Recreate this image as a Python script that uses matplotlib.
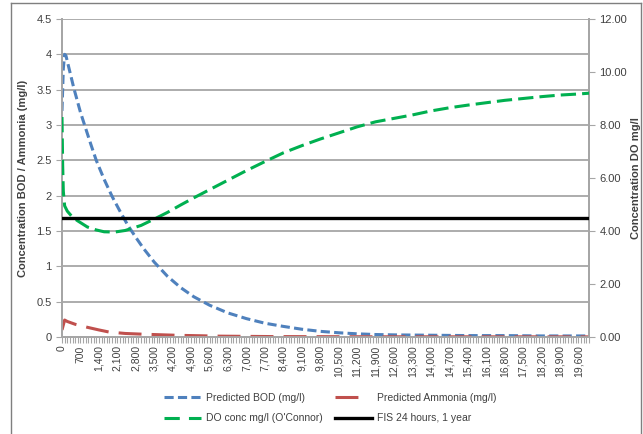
import matplotlib
matplotlib.use("Agg")
import matplotlib.pyplot as plt
from matplotlib.ticker import MultipleLocator, FuncFormatter
from matplotlib.lines import Line2D

plt.rcParams['font.family'] = ['Liberation Sans', 'DejaVu Sans']

# Data (x = distance / time step)
bod_x = [0, 50, 100, 150, 300, 450, 700, 900, 1100, 1300, 1600, 1900, 2200, 2500,
         2800, 3100, 3500, 4000, 4500, 5000, 5600, 6300, 7000, 7700, 8400, 9100,
         9800, 10500, 11200, 11900, 12600, 14000, 15400, 16800, 18200, 19600, 20000]
bod_y = [3.2, 3.8, 4.0, 3.98, 3.75, 3.52, 3.18, 2.95, 2.72, 2.50, 2.23, 1.99, 1.78, 1.58,
         1.41, 1.25, 1.06, 0.86, 0.70, 0.57, 0.45, 0.34, 0.26, 0.195, 0.15, 0.11,
         0.08, 0.06, 0.045, 0.035, 0.03, 0.025, 0.02, 0.02, 0.015, 0.015, 0.015]

nh3_x = [0, 100, 200, 500, 965, 1400, 1790, 2400, 3050, 4380, 6000, 8000, 12000, 20000]
nh3_y = [0.10, 0.24, 0.22, 0.18, 0.137, 0.10, 0.07, 0.05, 0.04, 0.024, 0.012, 0.006, 0.003, 0.002]

do_x = [0, 25, 50, 100, 200, 400, 600, 965, 1300, 1600, 2000, 2400, 3000, 3500, 4000,
        4500, 5000, 5600, 6300, 7000, 7700, 8400, 9100, 9800, 10500, 11200, 11900,
        12600, 13300, 14000, 14700, 15400, 16100, 16800, 17500, 18200, 18900, 19600, 20000]
do_y = [8.3, 6.5, 5.5, 4.95, 4.75, 4.52, 4.38, 4.15, 4.04, 3.97, 3.96, 4.02, 4.21, 4.45, 4.70,
        4.98, 5.25, 5.56, 5.92, 6.28, 6.62, 6.95, 7.22, 7.47, 7.70, 7.93, 8.12,
        8.25, 8.38, 8.53, 8.65, 8.75, 8.84, 8.93, 9.00, 9.07, 9.13, 9.17, 9.20]

fis_x = [0, 20000]
fis_y = [4.5, 4.5]

blue = '#4F81BD'
red = '#C0504D'
green = '#00B050'
grid_c = '#A6A6A6'
txt_c = '#404040'

fig = plt.figure(figsize=(6.43, 4.34), dpi=100)
ax = fig.add_axes([62 / 643, 1 - 337 / 434, (589 - 62) / 643, (337 - 19) / 434])
ax2 = ax.twinx()

lw = 2.2
ax.plot(bod_x, bod_y, color=blue, lw=lw, dashes=(3, 1.4), zorder=4)
ax.plot(nh3_x, nh3_y, color=red, lw=lw, dashes=(7.5, 3.3), zorder=4)
ax2.plot(do_x, do_y, color=green, lw=lw, dashes=(5, 2), zorder=4)
ax2.plot(fis_x, fis_y, color='black', lw=2.4, zorder=5)

ax.set_xlim(0, 20000)
ax.set_ylim(0, 4.5)
ax2.set_ylim(0, 12)

ax.yaxis.set_major_locator(MultipleLocator(0.5))
ax.yaxis.set_major_formatter(FuncFormatter(lambda v, p: f"{v:g}"))
ax2.yaxis.set_major_locator(MultipleLocator(2))
ax2.yaxis.set_major_formatter(FuncFormatter(lambda v, p: f"{v:.2f}"))

ax.xaxis.set_major_locator(MultipleLocator(700))
ax.xaxis.set_minor_locator(MultipleLocator(100))
ax.xaxis.set_major_formatter(FuncFormatter(lambda v, p: f"{int(v):,}"))

ax.grid(axis='y', color=grid_c, lw=1.3, zorder=0)
ax.set_axisbelow(True)

for a in (ax, ax2):
    for s in a.spines.values():
        s.set_color(grid_c)
        s.set_linewidth(1.3)
ax2.spines['top'].set_visible(False)
ax.spines['top'].set_visible(False)

ax.tick_params(axis='x', which='both', direction='out', length=4, width=0.8, color=grid_c,
               labelsize=7.5, labelcolor=txt_c, labelrotation=90, pad=2)
ax.tick_params(axis='y', direction='out', length=4, color=grid_c, labelsize=8, labelcolor=txt_c)
ax2.tick_params(axis='y', direction='out', length=4, color=grid_c, labelsize=8, labelcolor=txt_c)

fig.text(23 / 643, 1 - 178 / 434, 'Concentration BOD / Ammonia (mg/l)', rotation=90,
         ha='center', va='center', fontsize=8, fontweight='bold', color=txt_c)
fig.text(636 / 643, 1 - 178 / 434, 'Concentration DO mg/l', rotation=90,
         ha='center', va='center', fontsize=8, fontweight='bold', color=txt_c)

# legend proxies (red handle shows a single long dash as in the original)
handles = [
    Line2D([], [], color=blue, lw=lw, dashes=(3, 1.4)),
    Line2D([], [], color=green, lw=lw, dashes=(5, 3)),
    Line2D([], [], color=red, lw=lw, dashes=(7.5, 30)),
    Line2D([], [], color='black', lw=2.4),
]
labels = ['Predicted BOD (mg/l)', "DO conc mg/l (O'Connor)",
          'Predicted Ammonia (mg/l)', 'FIS 24 hours, 1 year']
fig.legend(handles, labels, ncol=2, loc='center', bbox_to_anchor=(330 / 643, 1 - 408 / 434),
           frameon=False, fontsize=7.5, handlelength=3.6, columnspacing=1.2,
           handletextpad=0.4, labelspacing=1.0, labelcolor=txt_c)

# outer chart border
border = dict(color='#7F7F7F', lw=1.0)
fig.add_artist(Line2D([11 / 643, 11 / 643], [0, 1 - 3 / 434], transform=fig.transFigure, **border))
fig.add_artist(Line2D([11 / 643, 641 / 643], [1 - 3 / 434, 1 - 3 / 434], transform=fig.transFigure, **border))
fig.add_artist(Line2D([641 / 643, 641 / 643], [0, 1 - 3 / 434], transform=fig.transFigure, **border))

fig.savefig('out.png', dpi=100)
